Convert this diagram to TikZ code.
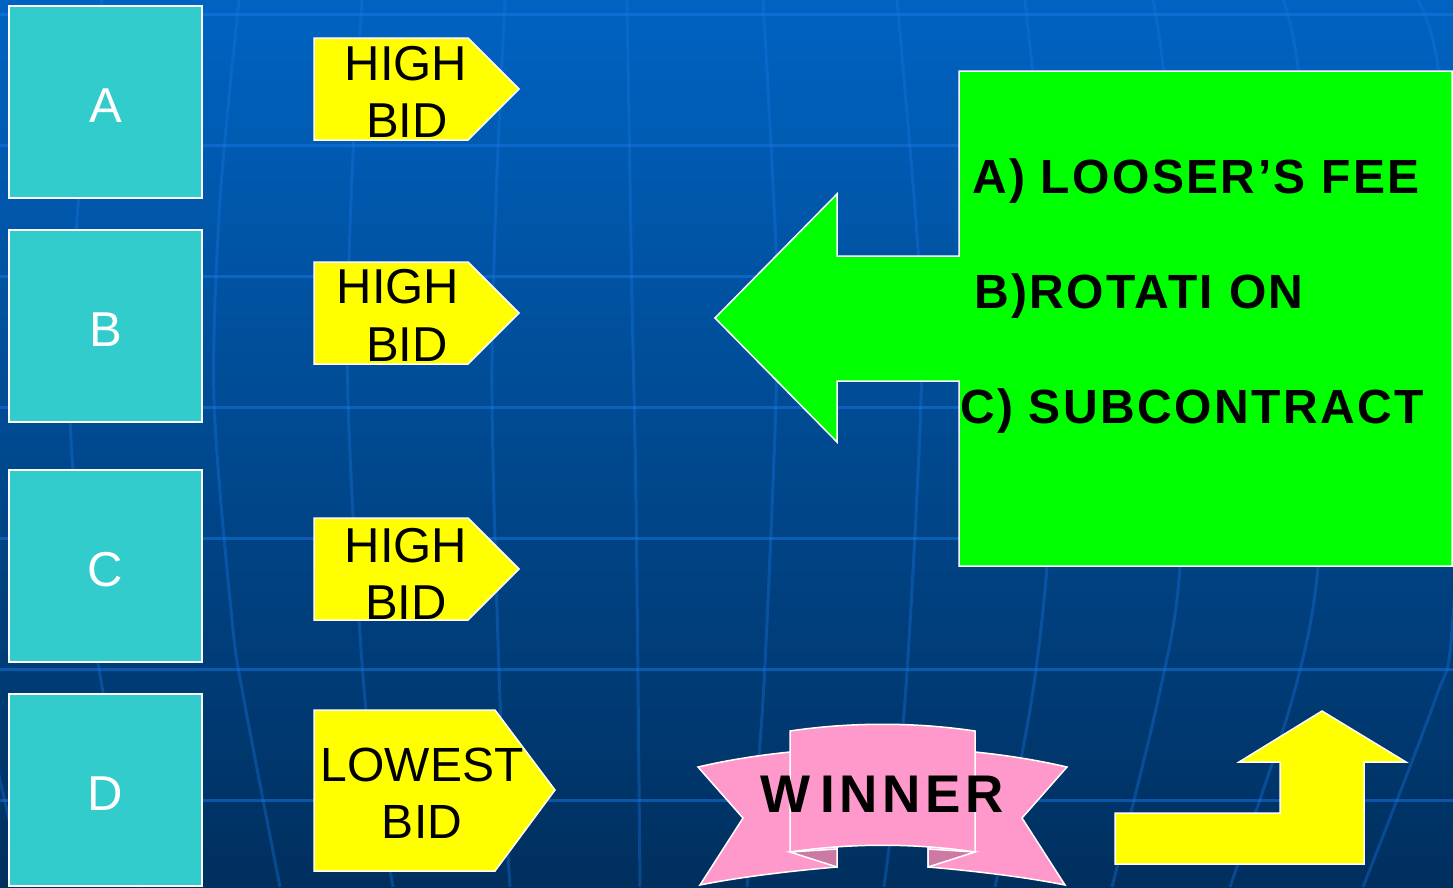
\documentclass[tikz,border=0pt]{standalone}
\usepackage{fontspec}
\setmainfont{Liberation Sans}
\definecolor{bgtop}{RGB}{0,99,194}
\definecolor{bgbot}{RGB}{0,47,94}
\definecolor{gridc}{RGB}{25,120,230}
\definecolor{tealc}{RGB}{51,204,204}
\definecolor{yelc}{RGB}{255,255,0}
\definecolor{grnc}{RGB}{0,255,0}
\definecolor{pinkc}{RGB}{255,153,204}
\definecolor{foldc}{RGB}{204,122,163}
\begin{document}
\begin{tikzpicture}[x=1pt,y=-1pt,
  outl/.style={draw=white,line width=1.5pt,line join=miter},
  hline/.style={draw=gridc,line width=3pt,opacity=0.5},
  mline/.style={draw=gridc,line width=3pt,opacity=0.35},
  tealbox/.style={outl,fill=tealc,minimum width=193pt,minimum height=192pt,inner sep=0pt,text=white,text height=40pt,text depth=0pt,font=\fontsize{49}{49}\selectfont},
  bidtxt/.style={anchor=base,inner sep=0pt,text=black,font=\fontsize{49}{49}\selectfont},
  grntxt/.style={anchor=base west,inner sep=0pt,text=black,font=\bfseries\fontsize{48}{48}\selectfont\addfontfeature{LetterSpace=5}},
  wintxt/.style={anchor=base,inner sep=0pt,text=black,font=\bfseries\fontsize{53}{53}\selectfont\addfontfeature{LetterSpace=9}}]
\useasboundingbox (0,0) rectangle (1453,887);
\clip (0,0) rectangle (1453,887);
\shade[top color=bgtop,bottom color=bgbot] (0,0) rectangle (1453,887);
% latitude lines
\foreach \yy in {14,145,276,407,538,669,800}
  \draw[hline] (0,\yy) -- (1453,\yy);
% meridians
\draw[mline] plot[smooth] coordinates {(-30,640) (0,780) (25,887)};
\draw[mline] plot[smooth] coordinates {(102,0) (80,180) (71,350) (73,470) (98,663) (140,887)};
\draw[mline] plot[smooth] coordinates {(239,0) (220,200) (214,400) (232,620) (244,700) (280,887)};
\draw[mline] plot[smooth] coordinates {(362,0) (351,200) (348,400) (365,700) (393,887)};
\draw[mline] plot[smooth] coordinates {(505,0) (496,200) (492,400) (500,700) (510,887)};
\draw[mline] plot[smooth] coordinates {(627,0) (632,300) (636,500) (640,887)};
\draw[mline] plot[smooth] coordinates {(763,0) (776,250) (776,400) (763,700) (747,887)};
\draw[mline] plot[smooth] coordinates {(897,0) (918,250) (921,400) (905,700) (884,887)};
\draw[mline] plot[smooth] coordinates {(1025,0) (1050,250) (1055,400) (1047,567) (1030,710) (995,887)};
\draw[mline] plot[smooth] coordinates {(1153,0) (1163,67) (1185,300) (1180,567) (1158,700) (1112,887)};
\draw[mline] plot[smooth] coordinates {(1283,0) (1298,67) (1325,330) (1318,567) (1292,700) (1230,887)};
\draw[mline] plot[smooth] coordinates {(1418,0) (1438,67) (1465,330) (1452,630) (1435,700) (1363,887)};

% teal boxes
\node[tealbox] (boxA) at (105.5,102) {A};
\node[tealbox] (boxB) at (105.5,326) {B};
\node[tealbox] (boxC) at (105.5,566) {C};
\node[tealbox] (boxD) at (105.5,790) {D};

% yellow bid tags
\filldraw[outl,fill=yelc] (314,38) -- (468,38) -- (519,89) -- (468,140) -- (314,140) -- cycle;
\filldraw[outl,fill=yelc] (314,262) -- (468,262) -- (519,313) -- (468,364) -- (314,364) -- cycle;
\filldraw[outl,fill=yelc] (314,518) -- (468,518) -- (519,569) -- (468,620) -- (314,620) -- cycle;
\filldraw[outl,fill=yelc] (314,710) -- (495,710) -- (555,790) -- (495,871) -- (314,871) -- cycle;
\node[bidtxt] (hiA) at (406,80) {HIGH};
\node[bidtxt] (bdA) at (407,137) {BID};
\node[bidtxt] (hiB) at (398,303) {HIGH};
\node[bidtxt] (bdB) at (407,361) {BID};
\node[bidtxt] (hiC) at (406,562) {HIGH};
\node[bidtxt] (bdC) at (406,619) {BID};
\node[bidtxt,font=\fontsize{48}{48}\selectfont] (loD) at (422,781) {LOWEST};
\node[bidtxt,font=\fontsize{48}{48}\selectfont] (bdD) at (422,838) {BID};

% green arrow + box
\filldraw[outl,fill=grnc] (715,318) -- (837,194) -- (837,256) -- (959,256) -- (959,71) -- (1452,71)
  -- (1452,566) -- (959,566) -- (959,381) -- (837,381) -- (837,442) -- cycle;
\node[grntxt] (optA) at (972,193) {A) LOOSER’S FEE};
\node[grntxt] (optB) at (974,308) {B)ROTATI\kern16pt ON};
\node[grntxt] (optC) at (960,423) {C) SUBCONTRACT};

% winner ribbon
\filldraw[outl,fill=pinkc] (698,767) .. controls (728,760) and (760,755) .. (790,752) -- (837,748)
  -- (837,867) .. controls (790,871) and (740,877) .. (700,885) -- (743,818) -- cycle;
\filldraw[outl,fill=pinkc] (1067,767) .. controls (1037,760) and (1005,755) .. (975,752) -- (928,748)
  -- (928,867) .. controls (975,871) and (1025,877) .. (1065,885) -- (1022,818) -- cycle;
\filldraw[outl,fill=foldc] (790,852) -- (837,849) -- (837,867) -- cycle;
\filldraw[outl,fill=foldc] (975,852) -- (928,849) -- (928,867) -- cycle;
\filldraw[outl,fill=pinkc] (790,731) .. controls (850,722) and (915,722) .. (975,731) -- (975,852)
  .. controls (915,843) and (850,843) .. (790,852) -- cycle;
\node[wintxt] (win) at (882,812) {W\kern10pt INNER};

% bent yellow arrow
\filldraw[outl,fill=yelc] (1115,864) -- (1115,813) -- (1280,813) -- (1280,762) -- (1239,762)
  -- (1322,711) -- (1406,762) -- (1364,762) -- (1364,864) -- cycle;
\end{tikzpicture}
\end{document}
